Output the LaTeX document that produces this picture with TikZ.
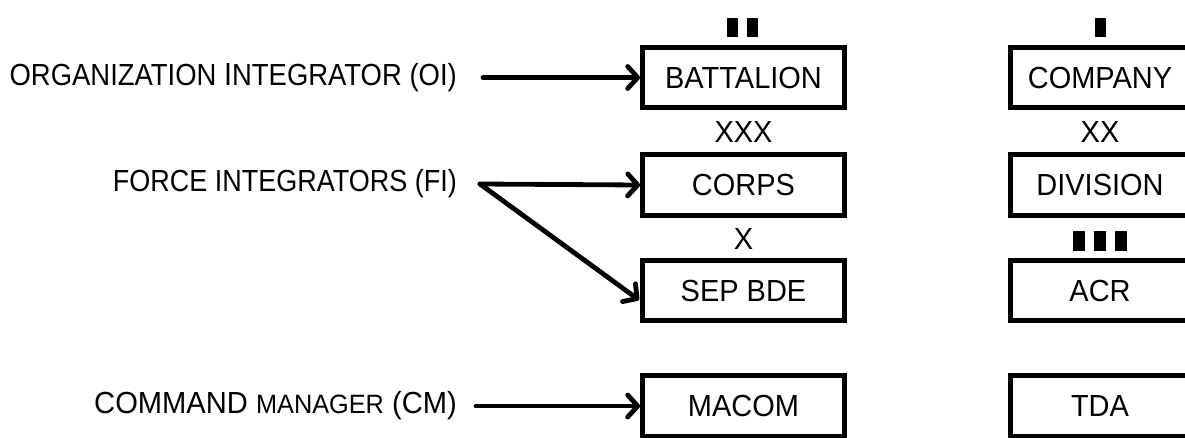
\documentclass[tikz,border=0pt]{standalone}
\usepackage{fontspec}
\setmainfont{Liberation Sans}
\newfontfamily\boxfont[FakeStretch=0.95]{Liberation Sans}
\newfontfamily\lblfont[FakeStretch=0.885]{Liberation Sans}
\newfontfamily\oifont[FakeStretch=0.9]{Liberation Sans}
\newfontfamily\cmfont[FakeStretch=0.955]{Liberation Sans}
\usetikzlibrary{arrows.meta}
\begin{document}
\begin{tikzpicture}[x=1pt,y=-1pt,
  unitbox/.style={draw=black,line width=4.8pt,minimum width=202pt,minimum height=60pt,inner sep=0pt,font=\boxfont\fontsize{30.5}{34}\selectfont},
  rbox/.style={unitbox,minimum width=179pt},
  lbl/.style={anchor=east,inner sep=0pt,font=\lblfont\fontsize{30.5}{34}\selectfont},
  sym/.style={inner sep=0pt,font=\boxfont\fontsize{30.5}{34}\selectfont},
  bar/.style={fill=black,draw=none,minimum width=11pt,minimum height=19pt,inner sep=0pt},
  conn/.style={line width=4.8pt,line cap=round,-{Straight Barb[length=10pt,width=22pt,line cap=round,line join=round]}}]
\useasboundingbox (0,0) rectangle (1185,437);
\clip (0,0) rectangle (1185,437);
% left column boxes
\node[unitbox] (bat) at (743.5,77.5) {BATTALION};
\node[unitbox,minimum height=61pt] (corps) at (743.5,185) {CORPS};
\node[unitbox] (sep) at (743.5,290.5) {SEP BDE};
\node[unitbox,minimum height=61pt] (macom) at (743.5,406) {MACOM};
% right column boxes
\node[rbox] (comp) at (1100,77.5) {COMPANY};
\node[rbox,minimum height=61pt] (div) at (1100,185) {DIVISION};
\node[rbox] (acr) at (1100,290.5) {ACR};
\node[rbox,minimum height=61pt] (tda) at (1100,406) {TDA};
% echelon symbols
\node[bar] (b1) at (732.5,27.5) {};
\node[bar] (b2) at (752.5,27.5) {};
\node[bar] (c1) at (1100,27.5) {};
\node[sym] (xxx) at (743.5,132.5) {XXX};
\node[sym] (xx) at (1100,132.5) {XX};
\node[sym] (x) at (743.5,239) {X};
\node[bar,minimum width=12pt,minimum height=20pt] (r1) at (1079,240.5) {};
\node[bar,minimum width=12pt,minimum height=20pt] (r2) at (1100,240.5) {};
\node[bar,minimum width=12pt,minimum height=20pt] (r3) at (1121,240.5) {};
% left labels
\node[lbl,font=\oifont\fontsize{30.5}{34}\selectfont] (oi) at (457,77.5) {ORGANIZATION {\fontsize{32}{34}\selectfont I}NTEGRATOR (OI)};
\node[lbl] (fi) at (457,184) {FORCE INTEGRATORS (FI)};
\node[lbl,font=\cmfont\fontsize{30.5}{34}\selectfont] (cm) at (457,406) {COMMAND {\fontsize{26.5}{34}\selectfont MANAGER} (CM)};
% connector start points
\coordinate (oiS) at (483,77.5);
\coordinate (fiS) at (480,184);
\coordinate (cmS) at (476,406);
\coordinate (sepT) at (639,300);
\draw[conn] (oiS) -- (bat.west);
\draw[conn] (fiS) -- (corps.west);
\draw[conn] (fiS) -- (sepT);
\draw[conn] (cmS) -- (macom.west);
\end{tikzpicture}
\end{document}
